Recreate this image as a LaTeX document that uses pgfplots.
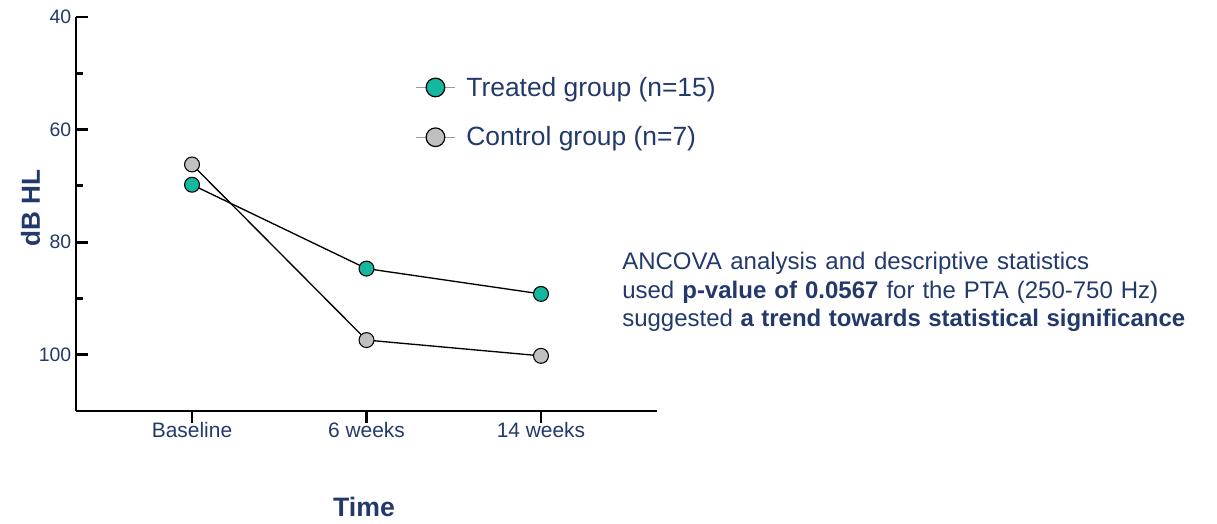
\documentclass[border=0pt]{standalone}
\usepackage{pgfplots}
\pgfplotsset{compat=1.18}
\usepackage{fontspec}
\setmainfont{Liberation Sans}
\definecolor{navy}{HTML}{22396A}
\definecolor{tealm}{HTML}{14B8A0}
\definecolor{graym}{HTML}{C0C0C0}
\definecolor{legline}{HTML}{9A9A9A}
\begin{document}
\begin{tikzpicture}
\begin{axis}[
  scale only axis,
  width=435.75pt, height=295.5pt,
  xmin=-0.665, xmax=2.665,
  ymin=40, ymax=110,
  y dir=reverse,
  axis lines=left,
  axis line style={-, line width=2.2pt, black},
  xtick={0,1,2},
  xticklabels={Baseline,6 weeks,14 weeks},
  ytick={40,60,80,100},
  minor ytick={50,70,90},
  tick align=inside,
  major tick length=9pt,
  minor tick length=5.25pt,
  every tick/.style={black, line width=2.2pt},
  x tick style={yshift=-9pt},
  /pgf/number format/assume math mode=true,
  yticklabel style={font=\fontsize{14.6}{17}\selectfont, text=navy},
  xticklabel style={font=\fontsize{15.7}{18}\selectfont, text=navy, yshift=-5pt},
  xlabel={Time},
  ylabel={dB HL},
  xlabel style={font=\fontsize{20}{24}\selectfont\bfseries, text=navy, at={(axis description cs:0.4957,-0.269)}, anchor=base},
  ylabel style={font=\fontsize{19.6}{23}\selectfont\bfseries, text=navy, at={(axis description cs:-0.062,0.515)}, anchor=base, rotate=0},
  clip=false,
  legend style={draw=none, fill=none, inner sep=0pt, font=\fontsize{19.8}{23}\selectfont, text=navy,
     at={(axis description cs:0.5835,0.758)}, anchor=west, row sep=17.5pt},
  legend cell align=left,
  legend image code/.code={
    \draw[#1, mark=none] (0pt,0pt) -- (29.25pt,0pt);
    \draw[#1] plot coordinates {(14.6pt,0pt)};
  },
]
\addlegendimage{legline, line width=1.1pt, mark=*, mark size=7pt, mark options={fill=tealm, draw=black, line width=0.9pt}}
\addlegendentry{\hspace{6pt}Treated group (n=15)}
\addlegendimage{legline, line width=1.1pt, mark=*, mark size=7pt, mark options={fill=graym, draw=black, line width=0.9pt}}
\addlegendentry{\hspace{6pt}Control group (n=7)}

\addplot[forget plot, black, line width=1pt, mark=*, mark size=5.6pt, mark options={fill=tealm, draw=black, line width=0.8pt}]
  coordinates {(0,69.8) (1,84.7) (2,89.2)};
\addplot[forget plot, black, line width=1pt, mark=*, mark size=5.6pt, mark options={fill=graym, draw=black, line width=0.8pt}]
  coordinates {(0,66.2) (1,97.4) (2,100.2)};
\end{axis}
\path[use as bounding box] (-57pt,-84.75pt) rectangle (855.75pt,308.25pt);
\begin{scope}[every node/.style={anchor=base west, inner sep=0pt, text=navy, font=\fontsize{18}{21}\selectfont}]
\node at (409.5pt,106pt) {\makebox[350.25pt][s]{ANCOVA analysis and descriptive statistics}};
\node at (409.5pt,84.5pt) {\makebox[402pt][s]{used \textbf{p-value of 0.0567} for the PTA (250-750 Hz)}};
\node at (409.5pt,63pt) {\makebox[422.25pt][s]{suggested \textbf{a trend towards statistical significance}}};
\end{scope}
\end{tikzpicture}
\end{document}
